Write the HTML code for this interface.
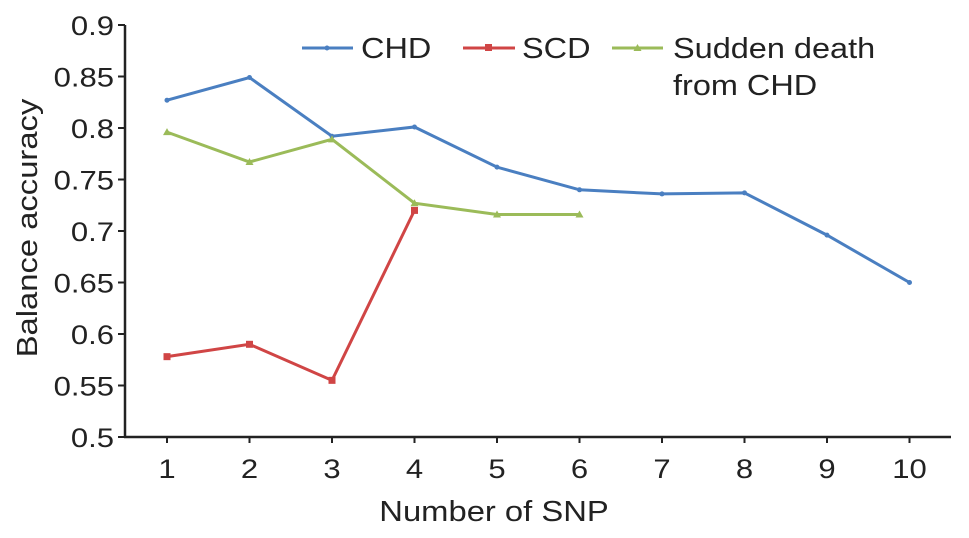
<!DOCTYPE html>
<html><head><meta charset="utf-8"><style>
body{margin:0;background:#fff;}
svg text{font-family:"Liberation Sans",Arial,sans-serif;fill:#222;}
</style></head><body>
<svg id="chart" width="969" height="533" xmlns="http://www.w3.org/2000/svg">
<g id="axes"></g><g id="series"></g>
<g>
 <g><line x1="302" y1="48" x2="353" y2="48" stroke="#4a7fc1" stroke-width="3"/><circle cx="327" cy="48" r="2.5" fill="#4a7fc1"/><text transform="translate(361,58) scale(1.12,1)" font-size="29">CHD</text></g>
 <g><line x1="463" y1="48" x2="515" y2="48" stroke="#d04545" stroke-width="3"/><rect x="485" y="44" width="7" height="7" fill="#d04545"/><text transform="translate(522,58) scale(1.12,1)" font-size="29">SCD</text></g>
 <g><line x1="612" y1="48" x2="663" y2="48" stroke="#9bbb59" stroke-width="3"/><polygon points="637.5,44 641.5,51 633.5,51" fill="#9bbb59"/><text transform="translate(673,58) scale(1.12,1)" font-size="29">Sudden death</text><text transform="translate(673,95) scale(1.12,1)" font-size="29">from CHD</text></g>
</g>
<text x="0" y="0" font-size="29" text-anchor="middle" transform="translate(37,228) rotate(-90) scale(1.13,1)">Balance accuracy</text>
<text font-size="29" text-anchor="middle" transform="translate(494,521) scale(1.13,1)">Number of SNP</text>
</svg>
<script>
const xCats=[1,2,3,4,5,6,7,8,9,10];
const yTicks=[0.5,0.55,0.6,0.65,0.7,0.75,0.8,0.85,0.9];
const yTickLabels=["0.5","0.55","0.6","0.65","0.7","0.75","0.8","0.85","0.9"];
const chd=[0.827,0.849,0.792,0.801,0.762,0.740,0.736,0.737,0.696,0.650];
const scd=[0.578,0.590,0.555,0.720];
const sudden=[0.796,0.767,0.789,0.727,0.716,0.716];
const NS="http://www.w3.org/2000/svg";
function X(v){return 167+(v-1)*82.5;}
function Y(v){return 437-(v-0.5)/0.4*412;}
function mk(t,a,p){const e=document.createElementNS(NS,t);for(const k in a)e.setAttribute(k,a[k]);p.appendChild(e);return e;}
const ax=document.getElementById('axes');
let l=mk('line',{x1:125,y1:Y(0.9),x2:125,y2:437,stroke:'#222','stroke-width':2.5},ax);


l=mk('line',{x1:124,y1:437,x2:951,y2:437,stroke:'#222','stroke-width':2.5},ax);


yTicks.forEach((v,i)=>{mk('line',{x1:118,y1:Y(v),x2:125,y2:Y(v),stroke:'#222','stroke-width':2},ax);
 const t=mk('text',{transform:`translate(114,${Y(v)+10}) scale(1.15,1)`,'font-size':27,'text-anchor':'end'},ax);t.textContent=yTickLabels[i];
 
 });
xCats.forEach(c=>{mk('line',{x1:X(c),y1:437,x2:X(c),y2:443,stroke:'#222','stroke-width':2},ax);
 const t=mk('text',{transform:`translate(${X(c)},478) scale(1.15,1)`,'font-size':27,'text-anchor':'middle'},ax);t.textContent=c;
 
 });
const sg=document.getElementById('series');
function draw(vals,col,name,marker){
 const g=mk('g',{},sg);
 
 
 mk('polyline',{points:vals.map((v,i)=>X(xCats[i])+','+Y(v)).join(' '),fill:'none',stroke:col,'stroke-width':3},g);
 vals.forEach((v,i)=>{const x=X(xCats[i]),y=Y(v);let m;
  if(marker==='sq')m=mk('rect',{x:x-3.5,y:y-3.5,width:7,height:7,fill:col},g);
  else if(marker==='tri')m=mk('polygon',{points:`${x},${y-4} ${x+4},${y+3} ${x-4},${y+3}`,fill:col},g);
  else m=mk('circle',{cx:x,cy:y,r:2.5,fill:col},g);
  
  });
}
draw(chd,'#4a7fc1','series-chd','dot');
draw(scd,'#d04545','series-scd','sq');
draw(sudden,'#9bbb59','series-sudden-death','tri');
</script>
</body></html>
